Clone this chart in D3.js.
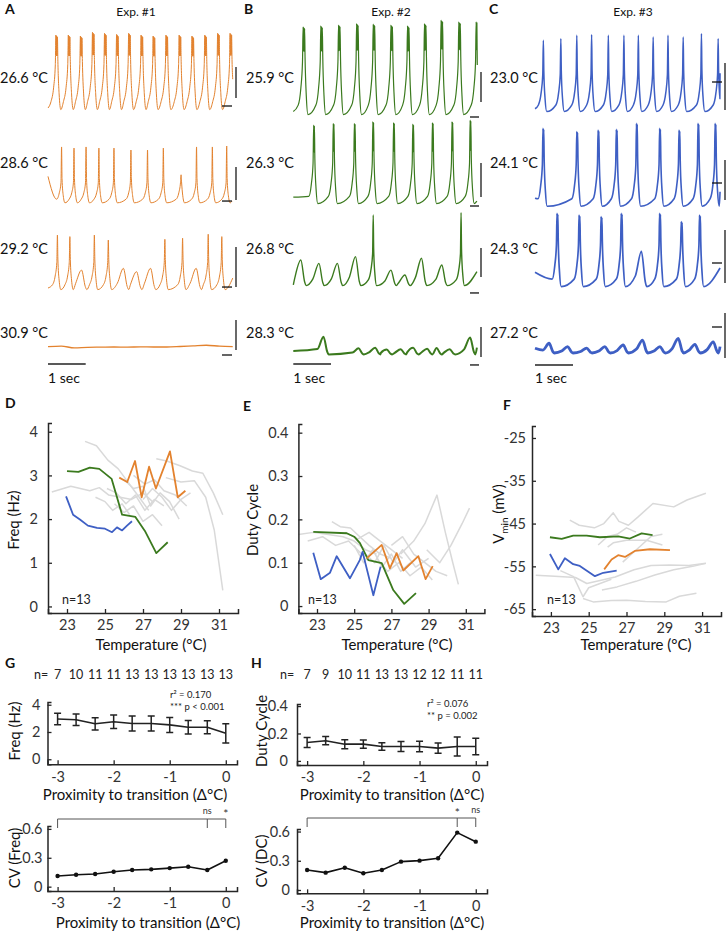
<!DOCTYPE html>
<html><head><meta charset="utf-8">
<script src="https://cdn.jsdelivr.net/npm/d3@7"></script>
<style>body{margin:0;background:#fff}svg{display:block}</style>
</head><body><svg id="c" width="726" height="932"></svg>
<script>
// ================= DATA =================
const expLabels = ["Exp. #1", "Exp. #2", "Exp. #3"];
const tempLabelsA = ["26.6 °C", "28.6 °C", "29.2 °C", "30.9 °C"];
const tempLabelsB = ["25.9 °C", "26.3 °C", "26.8 °C", "28.3 °C"];
const tempLabelsC = ["23.0 °C", "24.1 °C", "24.3 °C", "27.2 °C"];

// voltage traces: event times (s) and peak voltage (mV)
const a1Times = [0.23,0.56,0.88,1.2,1.52,1.84,2.16,2.49,2.81,3.15,3.5,3.84,4.18,4.52,4.85];
const a1Peaks = [-14.4,-14.4,-15,-12.7,-13.3,-14,-13.3,-14.4,-15,-14.4,-14.4,-15,-14.4,-13.3,-13.3];
const a2Times = [0.36,0.69,1.01,1.35,1.75,2.2,2.64,3.06,3.53,3.94,4.36,4.74];
const a2Peaks = [-25.6,-26.3,-25.6,-26.3,-26.3,-27.5,-27.5,-26.3,-43,-25.6,-25.6,-25];
const a3Times = [0.25,0.58,0.89,1.23,1.6,2.0,2.35,2.72,3.1,3.57,3.93,4.25,4.61];
const a3Peaks = [-26.9,-27.9,-48.8,-26.9,-30,-47.7,-49.8,-47.7,-29.6,-28.9,-47.7,-26.4,-27.9];
const a4Times = [0,0.35,0.7,1.05,1.4,1.75,2.1,2.45,2.8,3.15,3.5,3.85,4.2,4.55,4.9];
const a4Vals  = [-59.8,-59.4,-60.6,-60.2,-60.1,-60.0,-60.1,-59.9,-60.0,-60.0,-59.7,-59.3,-58.9,-59.5,-59.8];

const b1Times = [0.28,0.75,1.22,1.7,2.14,2.61,3.05,3.5,3.94,4.41,4.87];
const b1Peaks = [-6.1,-5.6,-5,-4.2,-4.4,-5,-5.6,-4.2,-1.9,-3,-3];
const b2Times = [0.55,1.07,1.63,2.12,2.67,3.18,3.7,4.22,4.7];
const b2Peaks = [-11.9,-10.8,-10.8,-9.8,-10.4,-11.3,-10.4,-9.8,-8.8];
const b3Times = [0.2,0.68,1.17,1.65,2.12,2.59,2.96,3.4,3.94,4.45];
const b3Peaks = [-45,-47.1,-47.1,-42.9,-16.9,-51.3,-54.4,-43.9,-48.1,-15.4];
const b4Times = [0.8,1.73,2.17,2.48,2.85,3.18,3.55,3.8,4.15,4.69];
const b4Peaks = [-50.4,-57.7,-57.3,-58.5,-58.3,-57.3,-58,-57.5,-58.3,-51];

const c1Times = [0.22,0.68,1.1,1.49,1.93,2.34,2.72,3.11,3.5,3.9,4.38,4.82];
const c1Peaks = [-16.4,-15.4,-13.3,-12.9,-13.3,-13.3,-13.3,-14.4,-13.3,-14.4,-12.3,-15.4];
const c2Times = [0.22,1.11,1.67,2.15,2.68,3.29,3.8,4.3,4.75];
const c2Peaks = [-13.3,-15.4,-14.4,-14,-10.2,-13.3,-14.4,-10.2,-10.2];
const c3Times = [0.59,1.17,1.75,2.28,2.8,3.29,3.86,4.34];
const c3Peaks = [-15.2,-16.3,-17.3,-15.2,-38.9,-15.2,-20.4,-16.3];
const c4Times = [0.37,0.86,1.36,1.84,2.32,2.83,3.29,3.77,4.21,4.69];
const c4Peaks = [-53.9,-56,-57,-56,-55,-51.9,-56,-50.8,-54.6,-53];

// per-trace levels (mV): shoulder, trough, start value, end [t, v], burst count
const levelsA = [
  {shoulder:-33, trough:-61, start:-60, end:[4.9,-42], burst:3},
  {shoulder:-48, trough:-60.5, start:-44, end:[4.88,-59.5], burst:1},
  {shoulder:-44, trough:-61, start:-60, end:[4.9,-53.8], burst:1}
];
const levelsB = [
  {shoulder:-28, trough:-61, start:-59, end:[4.88,-30], burst:3},
  {shoulder:-36, trough:-61, start:-57, end:[4.87,-59.5], burst:2},
  {shoulder:-41, trough:-61, start:-60.6, end:[4.87,-52.3], burst:1},
  {shoulder:-45, trough:-61.5, start:-59.4, end:[4.87,-57.3], burst:1}
];
const levelsC = [
  {shoulder:-38, trough:-61, start:-59.2, end:[4.87,-37], burst:1},
  {shoulder:-36, trough:-62, start:-57, end:[4.87,-53], burst:2},
  {shoulder:-35, trough:-61, start:-52, end:[4.87,-49.4], burst:2},
  {shoulder:-45, trough:-60, start:-57, end:[4.87,-56], burst:1}
];
// scale bars per row: [vbar low mV, vbar high mV, hbar level mV]
const barsA = [[-53.75,-34.4,-58.75],[-58.75,-38.1,-59.4],[-59.4,-34.4,-59.4],[-61.9,-43.1,-65]];
const barsB = [[-53.1,-34.4,-62.5],[-56.9,-35.6,-62.5],[-55.6,-37.5,-65.6],[-63.1,-44.4,-68.1]];
const barsC = [[-60,-30.6,-42.5],[-58.1,-33.1,-47.5],[-58.75,-25.6,-46.25],[-63.1,-35,-43.75]];

// Panel D: frequency (Hz) vs temperature (°C)
const freqOrange = [[25.75,2.95],[26.17,2.85],[26.58,3.33],[26.93,2.5],[27.32,3.2],[27.68,2.7],[28.42,3.55],[28.83,2.5],[29.23,2.65]];
const freqGreen  = [[23.0,3.1],[23.6,3.08],[24.2,3.18],[24.7,3.15],[25.35,2.92],[25.9,2.1],[26.6,2.05],[27.1,1.73],[27.7,1.22],[28.3,1.47]];
const freqBlue   = [[22.95,2.52],[23.32,2.1],[23.68,1.99],[24.1,1.85],[24.58,1.8],[25.0,1.78],[25.37,1.7],[25.63,1.81],[25.9,1.74],[26.16,1.85],[26.42,1.95]];
const freqGray = [
  [[22.2,2.62],[23.2,2.75],[24.2,2.65],[24.7,2.72],[25.2,2.55],[25.8,2.5],[26.4,2.45],[27.0,2.6],[27.5,2.4]],
  [[23.95,3.78],[24.55,3.68],[25.15,3.35],[25.7,3.15],[26.15,2.88],[26.8,2.5],[27.3,2.2]],
  [[27.7,3.38],[28.25,3.33],[28.95,3.22],[29.6,3.1],[30.15,3.05],[30.7,2.6],[31.2,2.1]],
  [[28.2,2.95],[29.0,2.85],[29.7,2.88],[30.3,2.5],[30.75,1.75],[31.2,0.37]],
  [[25.1,2.7],[25.6,2.6],[26.1,2.35],[26.6,2.55],[27.1,2.2],[27.6,2.45],[28.1,2.3]],
  [[26.0,2.9],[26.5,2.7],[27.0,2.75],[27.4,2.3],[27.9,2.6],[28.4,2.4],[28.9,2.0]],
  [[25.5,2.35],[26.0,2.15],[26.5,2.3],[27.0,1.95],[27.5,2.1],[28.0,1.85]],
  [[26.5,3.0],[27.1,2.8],[27.6,2.9],[28.1,2.65],[28.7,2.55],[29.3,2.3]],
  [[24.5,2.5],[25.0,2.4],[25.4,2.2],[25.9,2.35],[26.3,2.1]],
  [[27.0,2.45],[27.5,2.7],[28.0,2.5],[28.5,2.2],[29.0,2.45],[29.5,2.6]]
];
// Panel E: duty cycle vs temperature
const dcOrange = [[25.67,0.11],[26.48,0.141],[26.92,0.087],[27.28,0.122],[27.64,0.082],[28.45,0.115],[28.84,0.062],[29.22,0.092]];
const dcGreen  = [[22.8,0.171],[24.6,0.168],[25.0,0.16],[25.31,0.145],[25.76,0.106],[26.48,0.099],[27.1,0.037],[27.69,0.005],[28.32,0.03]];
const dcBlue   = [[22.8,0.123],[23.2,0.062],[23.7,0.077],[24.06,0.115],[24.77,0.064],[25.3,0.106],[25.45,0.125],[26.03,0.025],[26.42,0.091]];
const dcGray = [
  [[22.0,0.165],[22.8,0.17],[23.6,0.165],[24.4,0.16],[25.0,0.15],[25.6,0.13],[26.2,0.12]],
  [[23.8,0.195],[24.25,0.183],[24.8,0.18],[25.3,0.16],[25.8,0.14],[26.4,0.12],[27.0,0.11]],
  [[27.5,0.12],[28.2,0.15],[28.8,0.19],[29.45,0.256],[29.9,0.17],[30.3,0.1],[30.6,0.05]],
  [[28.9,0.13],[29.6,0.1],[30.2,0.14],[30.8,0.19],[31.2,0.226]],
  [[25.0,0.14],[25.5,0.1],[26.0,0.13],[26.5,0.09],[27.0,0.12],[27.5,0.08],[28.0,0.1]],
  [[24.5,0.17],[25.2,0.155],[25.8,0.17],[26.4,0.15],[27.0,0.13],[27.6,0.11]],
  [[26.2,0.11],[26.8,0.08],[27.4,0.1],[28.0,0.07],[28.6,0.09],[29.2,0.06]],
  [[25.6,0.12],[26.1,0.1],[26.6,0.14],[27.1,0.1],[27.6,0.13],[28.3,0.09],[29.0,0.11]],
  [[22.5,0.15],[23.3,0.16],[24.0,0.14],[24.7,0.15],[25.4,0.12]],
  [[27.0,0.14],[27.6,0.16],[28.2,0.12],[28.8,0.1],[29.4,0.08],[30.0,0.07]]
];
// Panel F: Vmin (mV) vs temperature
const vOrange = [[25.82,-55.7],[26.21,-53.4],[26.56,-52.4],[26.92,-52.8],[27.44,-51.4],[28.24,-51.0],[29.3,-51.2]];
const vGreen  = [[22.95,-48.2],[23.57,-48.6],[24.18,-47.8],[24.89,-47.8],[25.59,-48.2],[26.56,-48.0],[27.18,-48.5],[27.8,-47.3],[28.38,-47.7]];
const vBlue   = [[22.95,-52.1],[23.39,-55.7],[23.74,-53.1],[24.18,-54.5],[24.53,-54.9],[25.33,-57.3],[25.77,-56.5],[26.48,-56.0]];
const vGray = [
  [[24.0,-44.2],[24.5,-45.4],[25.3,-46.0],[25.8,-45.0],[26.3,-42.5],[26.6,-44.5],[27.1,-45.4],[27.6,-43.5],[28.4,-40.3],[29.5,-41.1],[30.2,-39.5],[31.2,-37.9]],
  [[22.2,-57.1],[23.2,-57.3],[24.3,-57.6],[24.9,-59.0],[25.6,-58.3],[26.4,-57.5],[27.4,-55.8],[28.3,-54.8],[29.3,-54.7],[30.3,-54.8],[31.2,-54.3]],
  [[25.7,-60.5],[26.5,-59.8],[27.5,-58.5],[28.5,-57.0],[29.5,-55.8],[30.5,-55.0],[31.2,-54.3]],
  [[24.7,-62.5],[25.24,-63.3],[26.2,-63.0],[27.0,-62.9],[28.0,-63.2],[29.1,-63.3],[29.8,-62.0],[30.7,-61.3]],
  [[23.5,-56.0],[24.2,-57.4],[24.7,-62.1],[25.0,-60.0],[25.6,-59.0],[26.2,-58.0]],
  [[26.0,-50.5],[26.3,-49.5],[27.0,-48.9],[28.06,-48.9],[28.9,-50.0]],
  [[26.8,-54.0],[27.3,-52.0],[27.8,-50.0],[28.3,-48.0],[28.9,-47.5]],
  [[25.5,-50.0],[26.0,-48.0],[26.5,-47.5],[27.0,-46.0],[27.5,-47.0]]
];
const tempTicks = [23, 25, 27, 29, 31];

// Panels G/H: proximity to transition
const proxX = [-3,-2.67,-2.33,-2,-1.67,-1.33,-1,-0.67,-0.33,0];
const nFreq = [7,10,11,11,13,13,13,13,13,13];
const freqMean = [2.95,2.9,2.6,2.75,2.62,2.62,2.52,2.35,2.35,1.9];
const freqErr  = [0.42,0.42,0.45,0.5,0.55,0.55,0.55,0.5,0.48,0.7];
const cvFreq   = [0.11,0.124,0.131,0.155,0.173,0.18,0.193,0.207,0.173,0.269];
const nDC = [7,9,10,11,13,13,12,12,11,11];
const dcMean = [0.134,0.147,0.122,0.122,0.105,0.105,0.105,0.093,0.105,0.105];
const dcErr  = [0.037,0.03,0.033,0.03,0.028,0.037,0.039,0.037,0.07,0.061];
const cvDC   = [0.205,0.178,0.229,0.172,0.205,0.291,0.301,0.326,0.589,0.496];
const proxTicks = [-3,-2,-1,0];
const statsG = ["r\u00B2 = 0.170", "*** p < 0.001"];
const statsH = ["r\u00B2 = 0.076", "** p = 0.002"];
const sigG = ["ns", "*"];
const sigH = ["*", "ns"];

// ================= DRAWING =================
const FONT = "Lato, 'Open Sans', sans-serif";
const ORANGE = "#E3822E", GREEN = "#3B7A1E", BLUE = "#3E5FC4", GRAY = "#D9D9D9";
const svg = d3.select("#c");
svg.append("rect").attr("width",726).attr("height",932).attr("fill","#fff");

function txt(x, y, s, o = {}) {
  return svg.append("text").attr("x", x).attr("y", y)
    .attr("font-family", FONT).attr("font-size", o.size || 14)
    .attr("font-weight", o.weight || "normal")
    .attr("fill", o.fill || "#111").attr("text-anchor", o.anchor || "start").text(s);
}
function vtxt(x, y, s, size) {
  return svg.append("text").attr("transform", `translate(${x},${y}) rotate(-90)`)
    .attr("font-family", FONT).attr("font-size", size || 15).attr("fill", "#111")
    .attr("text-anchor", "middle").text(s);
}

// ---- traces ----
function buildPoints(times, peaks, L) {
  const pts = [[0, L.start]];
  const push = (t, v) => { if (t > pts[pts.length - 1][0] + 0.003) pts.push([t, v]); };
  const T = L.trough, s = L.shoulder, sp = 0.02;
  times.forEach((t, i) => {
    const p = peaks[i];
    if (p > s) {
      const b = L.burst, t0 = t - sp * (b - 1) / 2;
      push(t0 - 0.13, T + (s - T) * 0.18);
      push(t0 - 0.06, T + (s - T) * 0.5);
      push(t0 - 0.016, s);
      for (let k = 0; k < b; k++) {
        const tk = t0 + k * sp;
        if (k > 0) push(tk - sp / 2, s + (p - s) * 0.3);
        push(tk, p - k * 0.6);
      }
      const te = t0 + sp * (b - 1);
      push(te + 0.012, s + (p - s) * 0.12);
      push(te + 0.045, T + (s - T) * 0.35);
      push(te + 0.09, T);
    } else {
      push(t - 0.16, T + (p - T) * 0.3);
      push(t, p);
      push(t + 0.1, T + (p - T) * 0.15);
      push(t + 0.14, T);
    }
  });
  const out = pts.filter(d => d[0] < L.end[0]);
  out.push(L.end);
  return out;
}

const panelsTr = [
  {x0: 48, pps: 37.7, rows: [108, 202, 288, 347], color: ORANGE, widths: [1, 1, 1, 1.3],
   traces: [[a1Times, a1Peaks], [a2Times, a2Peaks], [a3Times, a3Peaks], null], levels: levelsA,
   labels: tempLabelsA, labelX: 0, bars: barsA, vbarX: 236, hbarX: [222, 232], exp: expLabels[0], expX: 136,
   letter: "A", letterX: 5, secY: 364},
  {x0: 293.3, pps: 37.7, rows: [113, 202, 284, 352], color: GREEN, widths: [1.2, 1.2, 1.4, 2],
   traces: [[b1Times, b1Peaks], [b2Times, b2Peaks], [b3Times, b3Peaks], [b4Times, b4Peaks]], levels: levelsB,
   labels: tempLabelsB, labelX: 246, bars: barsB, vbarX: 481, hbarX: [470, 479], exp: expLabels[1], expX: 391,
   letter: "B", letterX: 244, secY: 364},
  {x0: 535, pps: 38, rows: [110, 203, 285, 353], color: BLUE, widths: [1.5, 1.6, 1.7, 2.8],
   traces: [[c1Times, c1Peaks], [c2Times, c2Peaks], [c3Times, c3Peaks], [c4Times, c4Peaks]], levels: levelsC,
   labels: tempLabelsC, labelX: 490, bars: barsC, vbarX: 725, hbarX: [712, 722], exp: expLabels[2], expX: 633,
   letter: "C", letterX: 489, secY: 365}
];
const labelBase = [83, 168, 254, 338];
const mvPx = 1.6;

panelsTr.forEach(P => {
  txt(P.letterX, 14, P.letter, {size: 14, weight: "bold"});
  txt(P.expX, 16, P.exp, {size: 12, anchor: "middle"});
  const xs = d3.scaleLinear().domain([0, 1]).range([P.x0, P.x0 + P.pps]);
  P.rows.forEach((troughPx, r) => {
    const ys = d3.scaleLinear().domain([-60, -20]).range([troughPx, troughPx - 40 * mvPx]);
    const pts = P.traces[r] ? buildPoints(P.traces[r][0], P.traces[r][1], P.levels[r])
                            : a4Times.map((t, i) => [t, a4Vals[i]]);
    const line = d3.line().x(d => xs(d[0])).y(d => ys(d[1])).curve(d3.curveMonotoneX);
    svg.append("path").attr("d", line(pts)).attr("fill", "none")
      .attr("stroke", P.color).attr("stroke-width", P.widths[r]).attr("stroke-linejoin", "round");
    txt(P.labelX, labelBase[r], P.labels[r], {size: 14.5});
    const b = P.bars[r];
    svg.append("line").attr("x1", P.vbarX).attr("x2", P.vbarX).attr("y1", ys(b[0])).attr("y2", ys(b[1]))
      .attr("stroke", "#444").attr("stroke-width", 1.6);
    svg.append("line").attr("x1", P.hbarX[0]).attr("x2", P.hbarX[1]).attr("y1", ys(b[2])).attr("y2", ys(b[2]))
      .attr("stroke", "#111").attr("stroke-width", 1.3);
  });
  svg.append("line").attr("x1", xs(0)).attr("x2", xs(1)).attr("y1", P.secY).attr("y2", P.secY)
    .attr("stroke", "#222").attr("stroke-width", 1.3);
  txt(xs(0), 383, "1 sec", {size: 14});
});

// ---- axes helper ----
function drawAxes(xs, ys, xt, yt, pad) {
  const g = svg.append("g");
  const xa = d3.axisBottom(xs).tickValues(xt).tickSizeInner(-4).tickSizeOuter(-4).tickPadding(7).tickFormat(d => String(d));
  const ya = d3.axisLeft(ys).tickValues(yt).tickSizeInner(-4).tickSizeOuter(-4).tickPadding(pad).tickFormat(d => String(d));
  const gx = g.append("g").attr("transform", `translate(0,${ys.range()[0]})`).call(xa);
  const gy = g.append("g").attr("transform", `translate(${xs.range()[0]},0)`).call(ya);
  [gx, gy].forEach(a => {
    a.attr("font-family", FONT).attr("font-size", 14.5);
    a.select(".domain").attr("stroke", "#262626").attr("stroke-width", 1.5);
    a.selectAll(".tick line").attr("stroke", "#262626").attr("stroke-width", 1.3);
    a.selectAll(".tick text").attr("fill", "#333");
  });
  return g;
}
function drawSeries(xs, ys, data, color, w) {
  const line = d3.line().x(d => xs(d[0])).y(d => ys(d[1]));
  svg.append("path").attr("d", line(data)).attr("fill", "none").attr("stroke", color)
    .attr("stroke-width", w).attr("stroke-linejoin", "round");
}

// ---- D, E, F ----
const tempPanels = [
  {letter: "D", lx: 5, ly: 408, xs: d3.scaleLinear().domain([22, 32]).range([48, 238]),
   ys: d3.scaleLinear().domain([-0.15, 4.2]).range([613, 423]), yt: [0,1,2,3,4], pad: 10,
   gray: freqGray, col: [[freqGreen, GREEN], [freqBlue, BLUE], [freqOrange, ORANGE]],
   ylab: "Freq (Hz)", ylx: 19, nX: 62, tX: 151},
  {letter: "E", lx: 243, ly: 411, xs: d3.scaleLinear().domain([22, 32]).range([298.4, 484.4]),
   ys: d3.scaleLinear().domain([-0.016, 0.42]).range([613, 424]), yt: [0,0.1,0.2,0.3,0.4], pad: 10,
   gray: dcGray, col: [[dcGreen, GREEN], [dcBlue, BLUE], [dcOrange, ORANGE]],
   ylab: "Duty Cycle", ylx: 258, nX: 308, tX: 397},
  {letter: "F", lx: 503, ly: 410, xs: d3.scaleLinear().domain([22, 32]).range([532, 721]),
   ys: d3.scaleLinear().domain([-66.6, -22.2]).range([616, 426]), yt: [-65,-55,-45,-35,-25], pad: 6,
   gray: vGray, col: [[vGreen, GREEN], [vBlue, BLUE], [vOrange, ORANGE]],
   ylab: null, ylx: 504, nX: 547, tX: 636}
];
tempPanels.forEach(P => {
  txt(P.lx, P.ly, P.letter, {size: 14, weight: "bold"});
  P.gray.forEach(d => drawSeries(P.xs, P.ys, d, GRAY, 1.5));
  P.col.forEach(([d, c]) => drawSeries(P.xs, P.ys, d, c, 1.8));
  drawAxes(P.xs, P.ys, tempTicks, P.yt, P.pad);
  txt(P.nX, 604, "n=13", {size: 12.5, fill: "#222"});
  txt(P.tX, 650, "Temperature (°C)", {size: 15, anchor: "middle"});
  if (P.ylab) vtxt(P.ylx, 520, P.ylab, 15);
});
// Vmin label with subscript
{
  const t = svg.append("text").attr("transform", "translate(504,514) rotate(-90)")
    .attr("font-family", FONT).attr("font-size", 15).attr("fill", "#111").attr("text-anchor", "middle");
  t.append("tspan").text("V");
  t.append("tspan").attr("font-size", 10).attr("dy", 4).text("min");
  t.append("tspan").attr("dy", -4).text(" (mV)");
}

// ---- G, H ----
const proxPanels = [
  {letter: "G", lx: 5, xs: d3.scaleLinear().domain([-3.18, 0.2]).range([47.5, 237]),
   ysT: d3.scaleLinear().domain([-0.37, 4.2]).range([764.3, 702]), ytT: [0,2,4], padT: 7,
   ysB: d3.scaleLinear().domain([-0.045, 0.63]).range([891, 826]), ytB: [0,0.3,0.6], padB: 5,
   n: nFreq, nLab: 34, mean: freqMean, err: freqErr, cv: cvFreq, stats: statsG, statX: 170, statY: [698, 710],
   sig: sigG, brY: 819, ylabT: "Freq (Hz)", ylabB: "CV (Freq)", ylx: 20, ylTy: 731, ylBy: 858,
   labT: 135, labB: 148},
  {letter: "H", lx: 251, xs: d3.scaleLinear().domain([-3.18, 0.2]).range([297, 487]),
   ysT: d3.scaleLinear().domain([-0.03, 0.415]).range([765, 704]), ytT: [0,0.2,0.4], padT: 9,
   ysB: d3.scaleLinear().domain([-0.034, 0.626]).range([893.3, 829]), ytB: [0,0.3,0.6], padB: 7,
   n: nDC, nLab: 280, mean: dcMean, err: dcErr, cv: cvDC, stats: statsH, statX: 427, statY: [707, 719],
   sig: sigH, brY: 818, ylabT: "Duty Cycle", ylabB: "CV (DC)", ylx: 267, ylTy: 731, ylBy: 861,
   labT: 392, labB: 392}
];
proxPanels.forEach(P => {
  txt(P.lx, 668, P.letter, {size: 14, weight: "bold"});
  txt(P.nLab, 679, "n=", {size: 12.5, fill: "#222"});
  P.n.forEach((v, i) => txt(P.xs(proxX[i]), 679, String(v), {size: 12.5, anchor: "middle", fill: "#222"}));
  txt(P.statX, P.statY[0], P.stats[0], {size: 9.5, fill: "#222"});
  txt(P.statX, P.statY[1], P.stats[1], {size: 9.5, fill: "#222"});
  // top: mean ± error
  const pts = proxX.map((x, i) => [x, P.mean[i]]);
  drawSeries(P.xs, P.ysT, pts, "#222", 1.6);
  proxX.forEach((x, i) => {
    const cx = P.xs(x), y1 = P.ysT(P.mean[i] - P.err[i]), y2 = P.ysT(P.mean[i] + P.err[i]);
    svg.append("path").attr("d", `M${cx},${y1}V${y2}M${cx-3.5},${y1}H${cx+3.5}M${cx-3.5},${y2}H${cx+3.5}`)
      .attr("stroke", "#222").attr("stroke-width", 1.5).attr("fill", "none");
  });
  drawAxes(P.xs, P.ysT, proxTicks, P.ytT, P.padT);
  txt(P.labT, 800, "Proximity to transition (\u0394°C)", {size: 15, anchor: "middle"});
  vtxt(P.ylx, P.ylTy, P.ylabT, 15);
  // bottom: CV
  const cpts = proxX.map((x, i) => [x, P.cv[i]]);
  drawSeries(P.xs, P.ysB, cpts, "#111", 1.6);
  cpts.forEach(d => svg.append("circle").attr("cx", P.xs(d[0])).attr("cy", P.ysB(d[1])).attr("r", 2.2).attr("fill", "#111"));
  drawAxes(P.xs, P.ysB, proxTicks, P.ytB, P.padB);
  txt(P.labB, 928, "Proximity to transition (\u0394°C)", {size: 15, anchor: "middle"});
  vtxt(P.ylx, P.ylBy, P.ylabB, 15);
  // significance bracket
  const xa = P.xs(proxX[0]), xb = P.xs(proxX[8]), xc = P.xs(proxX[9]);
  svg.append("path").attr("d", `M${xa},${P.brY + 9}V${P.brY}H${xc}V${P.brY + 9}M${xb},${P.brY}V${P.brY + 9}`)
    .attr("stroke", "#555").attr("stroke-width", 1).attr("fill", "none");
  [xb, xc].forEach((x, k) => {
    const s = P.sig[k];
    txt(x, s === "*" ? P.brY - 1 : P.brY - 5, s, {size: s === "*" ? 12 : 9, anchor: "middle", fill: "#333"});
  });
});
</script>
</body></html>
